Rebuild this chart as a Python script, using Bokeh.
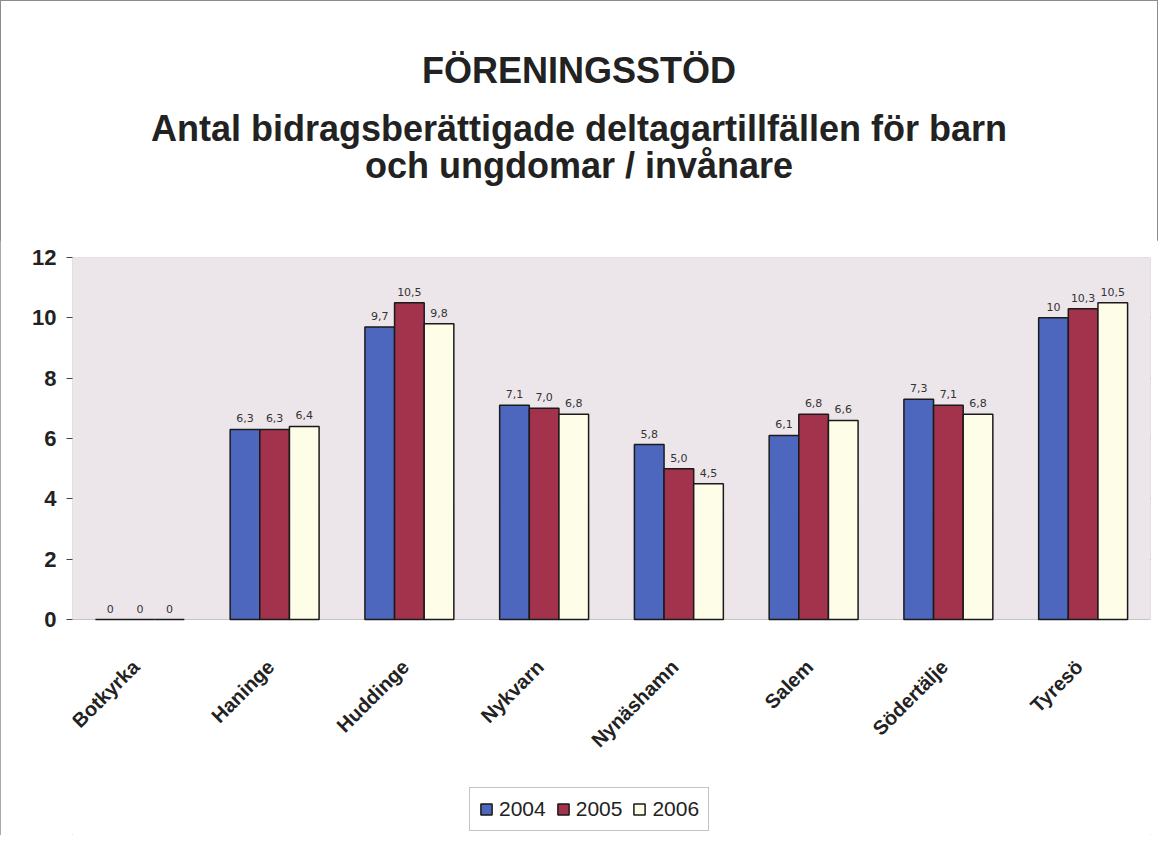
from bokeh.plotting import figure
from bokeh.models import (ColumnDataSource, FactorRange, Range1d, LabelSet, Legend,
                          LegendItem, FixedTicker, Div, BoxAnnotation)
from bokeh.layouts import column
from bokeh.core.properties import value
from bokeh.transform import dodge
from bokeh.embed import file_html
from bokeh.resources import INLINE

title_lines = ["FÖRENINGSSTÖD",
               "Antal bidragsberättigade deltagartillfällen för barn",
               "och ungdomar / invånare"]
categories = ["Botkyrka", "Haninge", "Huddinge", "Nykvarn", "Nynäshamn", "Salem", "Södertälje", "Tyresö"]
years = ["2004", "2005", "2006"]
v2004 = [0, 6.3, 9.7, 7.1, 5.8, 6.1, 7.3, 10.0]
v2005 = [0, 6.3, 10.5, 7.0, 5.0, 6.8, 7.1, 10.3]
v2006 = [0, 6.4, 9.8, 6.8, 4.5, 6.6, 6.8, 10.5]
l2004 = ["0", "6,3", "9,7", "7,1", "5,8", "6,1", "7,3", "10"]
l2005 = ["0", "6,3", "10,5", "7,0", "5,0", "6,8", "7,1", "10,3"]
l2006 = ["0", "6,4", "9,8", "6,8", "4,5", "6,6", "6,8", "10,5"]
yticks = [0, 2, 4, 6, 8, 10, 12]
ymin, ymax = 0, 12

colors = ["#4d67bf", "#a3324d", "#fdfde8"]

src = ColumnDataSource(dict(cat=categories, zero=[0] * len(categories),
                            v2004=v2004, v2005=v2005, v2006=v2006,
                            l2004=l2004, l2005=l2005, l2006=l2006))

tops = [50, 108, 145]
html = "".join(
    f'<div style="position:absolute;left:0;top:{t}px;width:1158px;text-align:center;'
    f'font-family:\'Liberation Sans\';font-weight:bold;font-size:36px;color:#222;'
    f'line-height:42px;white-space:nowrap;">{s}</div>'
    for s, t in zip(title_lines, tops))
head = Div(text=f'<div style="position:relative;width:1158px;height:240px;">{html}</div>',
           width=1158, height=240, margin=0)

# lower part of the y range leaves room (inside the frame) for rotated labels and legend
p = figure(x_range=FactorRange(*categories, range_padding=0), y_range=Range1d(-7.16, ymax),
           width=1158, height=595, output_backend="svg", toolbar_location=None,
           min_border_left=72, min_border_right=8, min_border_top=17, min_border_bottom=0,
           margin=0)

p.background_fill_color = "white"
p.border_fill_color = "white"
p.outline_line_color = None
plot_area = BoxAnnotation(bottom=ymin, top=ymax, fill_color="#ece6ea", fill_alpha=1.0,
                          line_color="#555555", line_width=1, level="underlay")
p.add_layout(plot_area)

p.xgrid.grid_line_color = None
p.ygrid.ticker = FixedTicker(ticks=yticks[1:])
p.ygrid.grid_line_color = "#555555"
p.ygrid.grid_line_width = 1

offs = [-0.22, 0.0, 0.22]
fields = ["v2004", "v2005", "v2006"]
lfields = ["l2004", "l2005", "l2006"]
renderers = []
for f, lf, c, o in zip(fields, lfields, colors, offs):
    r = p.vbar(x=dodge("cat", o, range=p.x_range), top=f, width=0.22, source=src,
               fill_color=c, line_color="#1a1a1a", line_width=1.5)
    renderers.append(r)
    lab = LabelSet(x=dodge("cat", o, range=p.x_range), y=f, text=lf, source=src,
                   text_align="center", text_baseline="bottom", y_offset=7,
                   text_font_size="11px", text_font=value("DejaVu Sans"), text_color="#333333")
    p.add_layout(lab)

xlab = LabelSet(x="cat", y="zero", text="cat", source=src, angle=45, angle_units="deg",
                text_align="right", text_baseline="middle", x_offset=-4, y_offset=-44,
                text_font=value("Liberation Sans"), text_font_style="bold",
                text_font_size="20px", text_color="#222222")
p.add_layout(xlab)

p.yaxis.ticker = FixedTicker(ticks=yticks)
p.yaxis.minor_tick_line_color = None
p.yaxis.major_label_text_font = "Liberation Sans"
p.yaxis.major_label_text_font_style = "bold"
p.yaxis.major_label_text_font_size = "22px"
p.yaxis.major_label_text_color = "#222222"
p.yaxis.axis_line_color = None
p.yaxis.major_tick_line_color = "#444444"
p.yaxis.major_tick_out = 6
p.yaxis.major_tick_in = 0
p.yaxis.major_label_standoff = 10

p.xaxis.visible = False

legend = Legend(items=[LegendItem(label=y, renderers=[r]) for y, r in zip(years, renderers)],
                orientation="horizontal", location=(397, 4),
                label_text_font="Liberation Sans", label_text_font_size="21px",
                label_text_color="#222222", glyph_width=14, glyph_height=14,
                border_line_color="#888888", spacing=10, padding=9,
                label_standoff=6)
p.add_layout(legend, "center")

lay = column(head, p, spacing=0, margin=0)
lay.styles = {"outline": "1px solid #8c8c8c", "outline-offset": "-1px"}

open("out.html", "w").write(file_html(lay, INLINE))
